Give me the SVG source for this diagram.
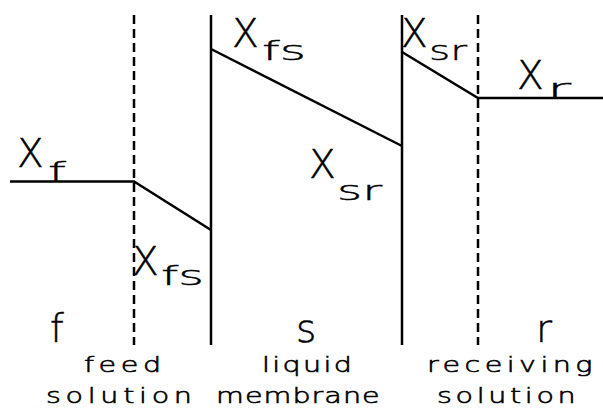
<svg xmlns="http://www.w3.org/2000/svg" width="603" height="410" viewBox="0 0 603 410">
<style>
.ln{stroke:#000;stroke-width:2.5;fill:none;stroke-linecap:butt}
.dash{stroke-dasharray:9 5}
text{font-family:"DejaVu Sans","Liberation Sans",sans-serif;font-weight:200;fill:#000;stroke:#000}
.big{font-size:39px;stroke-width:0.5}
.sub{font-size:27px;stroke-width:0.4}
.reg{font-size:39px;stroke-width:0.5}
.cap{font-size:22px;stroke-width:0.6}
</style>
<rect width="603" height="410" fill="#fff"/>
<g id="boundaries">
<line id="b1" class="ln dash" x1="134" y1="15" x2="134" y2="345"/>
<line id="b2" class="ln" x1="211" y1="15" x2="211" y2="345"/>
<line id="b3" class="ln" x1="402" y1="15" x2="402" y2="345"/>
<line id="b4" class="ln dash" x1="478" y1="15" x2="478" y2="345"/>
</g>
<g id="connectors">
<polyline class="ln" points="10,181.5 134,181.5 211,230"/>
<line class="ln" x1="211" y1="49" x2="402" y2="146"/>
<polyline class="ln" points="402,52 478,98 603,98"/>
</g>
<g id="label-xf"><text class="big" x="17" y="167">X</text><text class="sub" x="48" y="181" textLength="18" lengthAdjust="spacingAndGlyphs">f</text></g>
<g id="label-xfs-top"><text class="big" x="232" y="47">X</text><text class="sub" x="262" y="60" textLength="44" lengthAdjust="spacingAndGlyphs">fs</text></g>
<g id="label-xsr-mid"><text class="big" x="309" y="178">X</text><text class="sub" x="337" y="200" textLength="45" lengthAdjust="spacingAndGlyphs">sr</text></g>
<g id="label-xsr-top"><text class="big" x="401" y="47">X</text><text class="sub" x="429" y="60" textLength="38" lengthAdjust="spacingAndGlyphs">sr</text></g>
<g id="label-xr"><text class="big" x="517" y="89">X</text><text class="sub" x="547" y="98" textLength="24" lengthAdjust="spacingAndGlyphs">r</text></g>
<g id="label-xfs-low"><text class="big" x="132" y="275">X</text><text class="sub" x="161" y="285" textLength="43" lengthAdjust="spacingAndGlyphs">fs</text></g>
<g id="region-f"><text class="reg" x="50" y="342">f</text>
<text class="cap" transform="translate(84,372) scale(1.3,1)" letter-spacing="3.5">feed</text>
<text class="cap" transform="translate(46,403) scale(1.3,1)" letter-spacing="3.6">solution</text></g>
<g id="region-s"><text class="reg" x="296" y="342">s</text>
<text class="cap" transform="translate(262,372) scale(1.3,1)" letter-spacing="1.8">liquid</text>
<text class="cap" transform="translate(216,403) scale(1.3,1)" letter-spacing="0.8">membrane</text></g>
<g id="region-r"><text class="reg" x="536" y="342">r</text>
<text class="cap" transform="translate(427,372) scale(1.3,1)" letter-spacing="3.4">receiving</text>
<text class="cap" transform="translate(437,403) scale(1.3,1)" letter-spacing="2.8">solution</text></g>
</svg>
